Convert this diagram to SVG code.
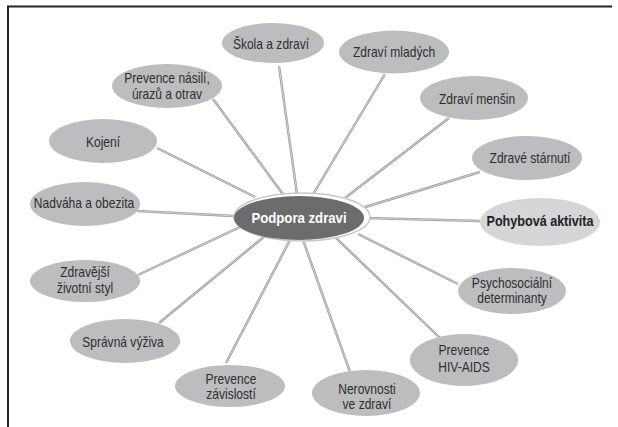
<svg xmlns="http://www.w3.org/2000/svg" width="618" height="427" viewBox="0 0 618 427">
<style>
.n{fill:#bcbdbf}
.t{font-family:"Liberation Sans",Arial,sans-serif;font-size:14px;fill:#2e2e2e;text-anchor:middle}
.c1{stroke:#9c9c9c;stroke-width:2.4;fill:none}
.c2{stroke:#e6e6e6;stroke-width:0.7;fill:none}
</style>
<rect width="618" height="427" fill="#fff"/>
<path d="M8,427 V6.5 H612" fill="none" stroke="#222" stroke-width="2"/>
<g id="connectors">
<g class="c1">
<path d="M279,66 L297,194"/>
<path d="M385,74 L312,196"/>
<path d="M213,99 L285,197"/>
<path d="M449,118 L345,198"/>
<path d="M157,148 L255,197"/>
<path d="M480,172 L362,208"/>
<path d="M137,211 L234,216"/>
<path d="M366,218 L480,221"/>
<path d="M138,275 L240,227"/>
<path d="M458,284 L358,234"/>
<path d="M159,323 L265,236"/>
<path d="M226,363 L290,240"/>
<path d="M350,372 L303,240"/>
<path d="M440,338 L335,237"/>
</g>
<g class="c2">
<path d="M279,66 L297,194"/>
<path d="M385,74 L312,196"/>
<path d="M213,99 L285,197"/>
<path d="M449,118 L345,198"/>
<path d="M157,148 L255,197"/>
<path d="M480,172 L362,208"/>
<path d="M137,211 L234,216"/>
<path d="M366,218 L480,221"/>
<path d="M138,275 L240,227"/>
<path d="M458,284 L358,234"/>
<path d="M159,323 L265,236"/>
<path d="M226,363 L290,240"/>
<path d="M350,372 L303,240"/>
<path d="M440,338 L335,237"/>
</g>
</g>
<g id="hub">
<ellipse cx="302" cy="217" rx="68" ry="24" fill="#fff" stroke="#c8c8c8" stroke-width="1.5"/>
<ellipse cx="299" cy="218" rx="65" ry="22" fill="#6c6c6c"/>
<text class="t" transform="translate(299,223) scale(0.88,1)" style="fill:#fff;font-weight:bold;font-size:15px">Podpora zdravi</text>
</g>
<g id="skola"><ellipse class="n" cx="273" cy="43" rx="51" ry="20"/><text class="t" transform="translate(271,49) scale(0.86,1)">Škola a zdraví</text></g>
<g id="mladych"><ellipse class="n" cx="394" cy="52" rx="55" ry="21.5"/><text class="t" transform="translate(394,57) scale(0.86,1)">Zdraví mladých</text></g>
<g id="nasili"><ellipse class="n" cx="167" cy="86" rx="55" ry="22"/><text class="t" transform="translate(167,83) scale(0.86,1)">Prevence násilí,</text><text class="t" transform="translate(167,99) scale(0.86,1)">úrazů a otrav</text></g>
<g id="mensin"><ellipse class="n" cx="474" cy="98" rx="54" ry="22"/><text class="t" transform="translate(477,104) scale(0.86,1)">Zdraví menšin</text></g>
<g id="kojeni"><ellipse class="n" cx="103" cy="141" rx="54" ry="22"/><text class="t" transform="translate(103,147) scale(0.86,1)">Kojení</text></g>
<g id="starnuti"><ellipse class="n" cx="527" cy="158" rx="55" ry="22"/><text class="t" transform="translate(530,163) scale(0.86,1)">Zdravé stárnutí</text></g>
<g id="nadvaha"><ellipse class="n" cx="85" cy="204" rx="55" ry="22"/><text class="t" transform="translate(84,208) scale(0.86,1)">Nadváha a obezita</text></g>
<g id="pohyb"><ellipse cx="540" cy="222" rx="60" ry="24" fill="#d5d6d7"/><text class="t" transform="translate(540,226) scale(0.9,1)" style="font-weight:bold;fill:#222">Pohybová aktivita</text></g>
<g id="zdravejsi"><ellipse class="n" cx="85" cy="281" rx="55" ry="21"/><text class="t" transform="translate(85,277) scale(0.86,1)">Zdravější</text><text class="t" transform="translate(85,293) scale(0.86,1)">životní styl</text></g>
<g id="psycho"><ellipse class="n" cx="512" cy="291" rx="54" ry="23"/><text class="t" transform="translate(512,288) scale(0.86,1)">Psychosociální</text><text class="t" transform="translate(512,303) scale(0.86,1)">determinanty</text></g>
<g id="vyziva"><ellipse class="n" cx="125" cy="341" rx="55" ry="22"/><text class="t" transform="translate(123,347) scale(0.86,1)">Správná výživa</text></g>
<g id="hiv"><ellipse class="n" cx="464" cy="360" rx="54" ry="26"/><text class="t" transform="translate(464,355) scale(0.86,1)">Prevence</text><text class="t" transform="translate(464,372) scale(0.86,1)">HIV-AIDS</text></g>
<g id="zavislosti"><ellipse class="n" cx="230" cy="386" rx="55" ry="21"/><text class="t" transform="translate(231,384) scale(0.86,1)">Prevence</text><text class="t" transform="translate(231,399) scale(0.86,1)">závislostí</text></g>
<g id="nerovnosti"><ellipse class="n" cx="366" cy="393" rx="54" ry="23"/><text class="t" transform="translate(367,394) scale(0.86,1)">Nerovnosti</text><text class="t" transform="translate(367,409) scale(0.86,1)">ve zdraví</text></g>
</svg>
